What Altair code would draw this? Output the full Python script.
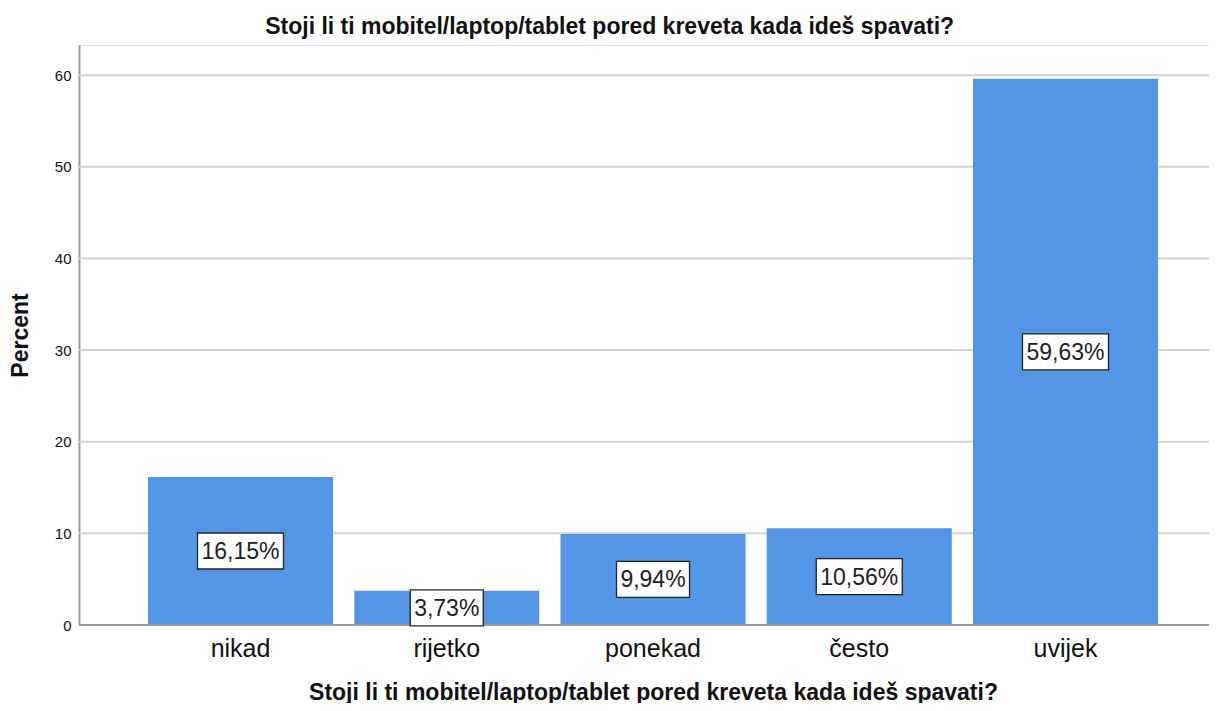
import altair as alt
import pandas as pd

categories = ["nikad", "rijetko", "ponekad", "često", "uvijek"]
percent = [16.15, 3.73, 9.94, 10.56, 59.63]
labels = ["16,15%", "3,73%", "9,94%", "10,56%", "59,63%"]
y_ticks = [0, 10, 20, 30, 40, 50, 60]

title_text = "Stoji li ti mobitel/laptop/tablet pored kreveta kada ideš spavati?"

df = pd.DataFrame({"cat": categories, "pct": percent, "label": labels})
grid_df = pd.DataFrame({"tick": y_ticks})

FONT = "Liberation Sans"
BLUE = "#5595e5"
W, H = 1130, 580

x_scale = alt.Scale(domain=categories, paddingInner=0.103, paddingOuter=0, range=[69, 1079])
y_scale = alt.Scale(domain=[0, 63.3], nice=False)

x_enc = alt.X(
    "cat:N",
    sort=categories,
    scale=x_scale,
    axis=alt.Axis(
        title=title_text,
        labelAngle=0,
        labelFontSize=25,
        labelFont=FONT,
        labelColor="#111",
        labelPadding=11,
        ticks=False,
        domain=False,
        titleFont=FONT,
        titleFontSize=23,
        titleFontWeight="bold",
        titleColor="#111",
        titlePadding=20,
        grid=False,
    ),
)

grid = alt.Chart(grid_df).mark_rule(color="#d2d2d2", strokeWidth=2).encode(
    y=alt.Y(
        "tick:Q",
        scale=y_scale,
        axis=alt.Axis(
            title="Percent",
            values=y_ticks,
            labelFontSize=15,
            labelFont=FONT,
            labelColor="#111",
            labelPadding=8,
            ticks=False,
            grid=False,
            domainColor="#999",
            domainWidth=2,
            titleFont=FONT,
            titleFontSize=23,
            titleFontWeight="bold",
            titleColor="#111",
            titlePadding=22,
        ),
    ),
    x=alt.value(0),
    x2=alt.value(W),
)

bars = alt.Chart(df).mark_bar(color=BLUE).encode(
    x=x_enc,
    y=alt.Y("pct:Q", scale=y_scale),
)

baseline_rule = alt.Chart(pd.DataFrame({"z": [y_ticks[0]]})).mark_rule(
    color="#999", strokeWidth=2
).encode(
    y=alt.Y("z:Q", scale=y_scale),
    x=alt.value(0),
    x2=alt.value(W),
)

base = alt.Chart(df).transform_calculate(
    mid="datum.pct / 2",
    boxw="length(datum.label) * 13 + 8",
)

boxes = base.mark_bar(
    color="white", stroke="#222", strokeWidth=1.3, yOffset=18, y2Offset=-18
).encode(
    x=alt.X("cat:N", sort=categories, scale=x_scale),
    y=alt.Y("mid:Q", scale=y_scale),
    y2="mid:Q",
    size=alt.Size("boxw:Q", scale=None, legend=None),
)

texts = base.mark_text(
    font=FONT, fontSize=23, color="#222", baseline="middle", align="center", dy=1
).encode(
    x=alt.X("cat:N", sort=categories, scale=x_scale),
    y=alt.Y("mid:Q", scale=y_scale),
    text="label:N",
)

chart = (
    alt.layer(grid, bars, baseline_rule, boxes, texts)
    .properties(
        width=W,
        height=H,
        title=alt.TitleParams(
            title_text,
            font=FONT,
            fontSize=23,
            fontWeight="bold",
            color="#111",
            anchor="middle",
            frame="bounds",
            offset=6,
        ),
        autosize=alt.AutoSizeParams(type="none"),
        padding={"left": 71, "top": 37, "right": 0, "bottom": 78},
    )
    .configure_view(stroke=None)
    .configure(background="white")
)

chart.save("out.html", embed_options={"renderer": "svg", "actions": False})
